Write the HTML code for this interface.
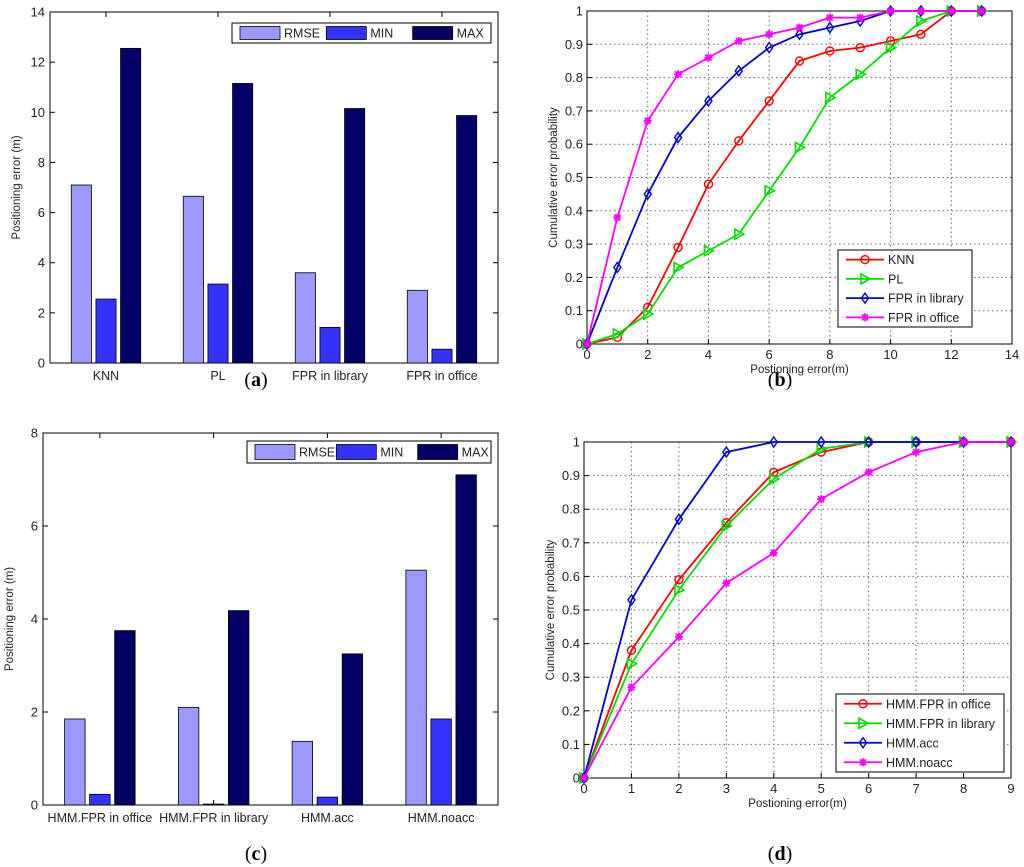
<!DOCTYPE html>
<html><head><meta charset="utf-8">
<style>
body{margin:0;background:#fff;}
svg{display:block;font-family:"Liberation Sans",sans-serif;}
</style></head>
<body>
<svg id="s" width="1024" height="867" viewBox="0 0 1024 867"></svg>
<script>
// ---- data ----
const barCatsA = ["KNN","PL","FPR in library","FPR in office"];
const rmseA = [7.1,6.65,3.6,2.9];
const minA = [2.55,3.15,1.42,0.55];
const maxA = [12.55,11.15,10.15,9.87];
const barCatsC = ["HMM.FPR in office","HMM.FPR in library","HMM.acc","HMM.noacc"];
const rmseC = [1.85,2.1,1.37,5.05];
const minC = [0.23,0.02,0.17,1.85];
const maxC = [3.75,4.18,3.25,7.1];
const xB = [0,1,2,3,4,5,6,7,8,9,10,11,12,13];
const knnB = [0,0.02,0.11,0.29,0.48,0.61,0.73,0.85,0.88,0.89,0.91,0.93,1,1];
const plB = [0,0.03,0.09,0.23,0.28,0.33,0.46,0.59,0.74,0.81,0.89,0.97,1,1];
const libB = [0,0.23,0.45,0.62,0.73,0.82,0.89,0.93,0.95,0.97,1,1,1,1];
const offB = [0,0.38,0.67,0.81,0.86,0.91,0.93,0.95,0.98,0.98,1,1,1,1];
const xD = [0,1,2,3,4,5,6,7,8,9];
const offD = [0,0.38,0.59,0.76,0.91,0.97,1,1,1,1];
const libD = [0,0.34,0.56,0.75,0.89,0.98,1,1,1,1];
const accD = [0,0.53,0.77,0.97,1,1,1,1,1,1];
const noaccD = [0,0.27,0.42,0.58,0.67,0.83,0.91,0.97,1,1];
const yTicksA = [0,2,4,6,8,10,12,14];
const yTicksC = [0,2,4,6,8];
const xTicksB = [0,2,4,6,8,10,12,14];
const xTicksD = [0,1,2,3,4,5,6,7,8,9];
const yTicksP = [0,0.1,0.2,0.3,0.4,0.5,0.6,0.7,0.8,0.9,1];

const NS="http://www.w3.org/2000/svg";
const S=document.getElementById('s');
function mk(tag,attrs,parent,text){
  const e=document.createElementNS(NS,tag);
  for(const k in attrs)e.setAttribute(k,attrs[k]);
  if(text!==undefined)e.textContent=text;
  (parent||S).appendChild(e);return e;
}
function grp(name){const g=mk('g',{});


return g;}

function barChart(id,box,cats,r,mn,mx,ymax,ticks,legBox){
  const g=grp('bar-chart-'+id);
  const [L,R,T,B]=box;
  const xs=v=>L+(v-0.5)*(R-L)/cats.length;
  const ys=v=>B-v*(B-T)/ymax;
  mk('rect',{x:L,y:T,width:R-L,height:B-T,fill:'#fff',stroke:'#000','stroke-width':1},g);
  ticks.forEach(t=>{
    const y=ys(t);
    mk('line',{x1:L,x2:L+5,y1:y,y2:y,stroke:'#000'},g);
    mk('line',{x1:R-5,x2:R,y1:y,y2:y,stroke:'#000'},g);
    const tx=mk('text',{x:L-5,y:y+4.5,'text-anchor':'end','font-size':13,fill:'#222'},g,String(t));
    
    
  });
  const series=[[r,'#9999ff','rmse'],[mn,'#3333ff','min'],[mx,'#000066','max']];
  const unit=(R-L)/cats.length;
  cats.forEach((c,i)=>{
    const cx=xs(i+1);
    mk('line',{x1:cx,x2:cx,y1:B,y2:B-5,stroke:'#000'},g);
    mk('line',{x1:cx,x2:cx,y1:T,y2:T+5,stroke:'#000'},g);
    const tl=mk('text',{x:cx,y:B+17,'text-anchor':'middle','font-size':12.5,fill:'#222'},g,c);
    
    
    series.forEach((s,j)=>{
      const off=(j-1)*0.22*unit, w=0.18*unit;
      const v=s[0][i];
      const b=mk('rect',{x:cx+off-w/2,y:ys(v),width:w,height:B-ys(v),fill:s[1],stroke:'#000','stroke-width':0.8},g);
      
      
    });
  });
  const yl=mk('text',{transform:`translate(${L-30},${(T+B)/2}) rotate(-90)`,'text-anchor':'middle','font-size':11.5,fill:'#222'},g,'Positioning error (m)');
  
  
  const [lx1,ly1,lx2,ly2]=legBox;
  const lg=mk('g',{},g);
  
  
  mk('rect',{x:lx1,y:ly1,width:lx2-lx1,height:ly2-ly1,fill:'#fff',stroke:'#000'},lg);
  const lw=(lx2-lx1)/3;
  ['RMSE','MIN','MAX'].forEach((n,j)=>{
    const x0=lx1+j*lw;
    mk('rect',{x:x0+8,y:ly1+3.5,width:40,height:ly2-ly1-7,fill:series[j][1],stroke:'#000','stroke-width':0.8},lg);
    mk('text',{x:x0+52,y:(ly1+ly2)/2+4.5,'font-size':12.5,fill:'#222'},lg,n);
  });
}

function marker(g,type,x,y,c){
  if(type==='o')mk('circle',{cx:x,cy:y,r:4,fill:'none',stroke:c,'stroke-width':1.4},g);
  else if(type==='>')mk('path',{d:`M${x-4},${y-5}L${x+5},${y}L${x-4},${y+5}Z`,fill:'none',stroke:c,'stroke-width':1.6},g);
  else if(type==='d')mk('path',{d:`M${x},${y-5}L${x+3.5},${y}L${x},${y+5}L${x-3.5},${y}Z`,fill:'none',stroke:c,'stroke-width':1.4},g);
  else mk('path',{d:`M${x-4},${y}L${x+4},${y}M${x},${y-4}L${x},${y+4}M${x-3},${y-3}L${x+3},${y+3}M${x-3},${y+3}L${x+3},${y-3}`,stroke:c,'stroke-width':1.8},g);
}

function lineChart(id,box,xmax,xTicks,xv,series,legBox){
  const g=grp('line-chart-'+id);
  const [L,R,T,B]=box;
  const xs=v=>L+v*(R-L)/xmax;
  const ys=v=>B-v*(B-T);
  mk('rect',{x:L,y:T,width:R-L,height:B-T,fill:'#fff',stroke:'#000'},g);
  xTicks.forEach(t=>{
    const x=xs(t);
    if(t>0&&t<xmax)mk('line',{x1:x,x2:x,y1:T,y2:B,stroke:'#666','stroke-dasharray':'1.5,3'},g);
    mk('line',{x1:x,x2:x,y1:B,y2:B-5,stroke:'#000'},g);
    const tx=mk('text',{x:x,y:B+15,'text-anchor':'middle','font-size':13,fill:'#222'},g,String(t));
    
    
  });
  yTicksP.forEach(t=>{
    const y=ys(t);
    if(t>0&&t<1)mk('line',{x1:L,x2:R,y1:y,y2:y,stroke:'#666','stroke-dasharray':'1.5,3'},g);
    mk('line',{x1:L,x2:L+5,y1:y,y2:y,stroke:'#000'},g);
    const tx=mk('text',{x:L-4,y:y+4.5,'text-anchor':'end','font-size':13,fill:'#222'},g,String(t));
    
    
  });
  series.forEach(s=>{
    const [name,vals,color,mt]=s;
    const sg=mk('g',{},g);
    
    
    mk('polyline',{points:vals.map((v,i)=>xs(xv[i])+','+ys(v)).join(' '),fill:'none',stroke:color,'stroke-width':1.8},sg);
    vals.forEach((v,i)=>marker(sg,mt,xs(xv[i]),ys(v),color));
  });
  const xl=mk('text',{x:(L+R)/2,y:B+29,'text-anchor':'middle','font-size':11.5,fill:'#222'},g,'Postioning error(m)');
  
  
  const yl=mk('text',{transform:`translate(${L-30},${(T+B)/2}) rotate(-90)`,'text-anchor':'middle','font-size':11.5,fill:'#222'},g,'Cumulative error probability');
  
  
  const [lx1,ly1,lx2,ly2]=legBox;
  const lg=mk('g',{},g);
  
  
  mk('rect',{x:lx1,y:ly1,width:lx2-lx1,height:ly2-ly1,fill:'#fff',stroke:'#000'},lg);
  const h=(ly2-ly1)/4;
  series.forEach((s,j)=>{
    const y=ly1+h*(j+0.5);
    mk('line',{x1:lx1+8,x2:lx1+46,y1:y,y2:y,stroke:s[2],'stroke-width':1.8},lg);
    marker(lg,s[3],lx1+27,y,s[2]);
    mk('text',{x:lx1+50,y:y+4.5,'font-size':12.5,fill:'#222'},lg,s[0]);
  });
}

barChart('a',[50,498,12,363],barCatsA,rmseA,minA,maxA,14,yTicksA,[232,23,491,43]);
lineChart('b',[587,1012,11,344],14,xTicksB,xB,[
  ['KNN',knnB,'#ff0000','o'],['PL',plB,'#00dd00','>'],['FPR in library',libB,'#0000cc','d'],['FPR in office',offB,'#ff00ff','*']],[838,250,972,327]);
barChart('c',[43,498,433,805],barCatsC,rmseC,minC,maxC,8,yTicksC,[247,441,491,463]);
lineChart('d',[584,1011,442,778],9,xTicksD,xD,[
  ['HMM.FPR in office',offD,'#ff0000','o'],['HMM.FPR in library',libD,'#00dd00','>'],['HMM.acc',accD,'#0000cc','d'],['HMM.noacc',noaccD,'#ff00ff','*']],[836,694,1004,772]);

[['a',256,386],['b',780,386],['c',256,860],['d',780,860]].forEach(c=>{
  const t=mk('text',{x:c[1],y:c[2],'text-anchor':'middle','font-size':20,'font-family':'Liberation Serif, serif',fill:'#000'},S);
  
  
  mk('tspan',{},t,'(');
  mk('tspan',{'font-weight':'bold'},t,c[0]);
  mk('tspan',{},t,')');
});
</script>
</body></html>
